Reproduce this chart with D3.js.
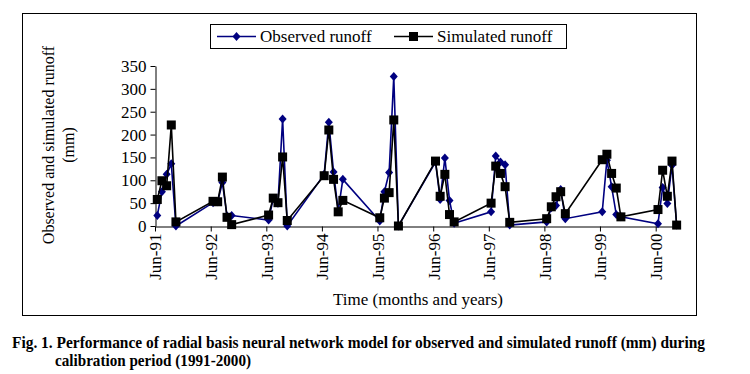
<!DOCTYPE html>
<html>
<head>
<meta charset="utf-8">
<script src="https://cdn.jsdelivr.net/npm/d3@7"></script>
<style>
  body { margin: 0; background: #fff; }
  svg { display: block; font-family: "Liberation Serif", "Times New Roman", serif; }
</style>
</head>
<body>
<div id="chart"></div>
<script>
// monsoon months recorded each year (Jun..Oct)
const years = [1991, 1992, 1993, 1994, 1995, 1996, 1997, 1998, 1999, 2000];
const months = [5, 6, 7, 8, 9]; // Jun, Jul, Aug, Sep, Oct (0-based)

// runoff (mm), 5 values per year
const observed = [
  23, 75, 113, 136, 0,
  51, 53, 95, 22, 23,
  13, 60, 50, 234, 0,
  113, 227, 118, 33, 102,
  11, 75, 117, 327, 0,
  140, 58, 149, 56, 6,
  31, 153, 140, 134, 2,
  9, 40, 45, 80, 16,
  31, 144, 86, 25, 20,
  5, 84, 49, 133, 2
];
const simulated = [
  58, 99, 88, 221, 9,
  54, 53, 107, 19, 3,
  24, 61, 51, 151, 12,
  110, 210, 102, 31, 56,
  18, 61, 73, 232, 0,
  142, 65, 113, 25, 9,
  50, 131, 115, 86, 8,
  16, 42, 64, 75, 27,
  145, 157, 115, 83, 20,
  36, 122, 65, 142, 2
];
const yTicks = [0, 50, 100, 150, 200, 250, 300, 350];

const W = 750, H = 374;
const dates = [];
years.forEach(y => months.forEach(m => dates.push(new Date(y, m, 1))));

const svg = d3.select('#chart').append('svg')
  .attr('width', W).attr('height', H);

// outer chart border
svg.append('rect')
  .attr('x', 22.5).attr('y', 13.5)
  .attr('width', 674).attr('height', 302)
  .attr('fill', 'none').attr('stroke', '#000').attr('stroke-width', 1);

const x = d3.scaleTime()
  .domain([new Date(1991, 5, 1), new Date(2000, 10, 1)])
  .range([155, 679]);
const y = d3.scaleLinear().domain([0, 350]).range([226, 66]);

// point sits in the middle of its month
const xm = d => (x(d) + x(d3.timeMonth.offset(d, 1))) / 2;

// axes
const gy = svg.append('g')
  .attr('transform', 'translate(155.5,0)')
  .call(d3.axisLeft(y).tickValues(yTicks).tickSize(5).tickPadding(4).tickSizeOuter(0));
gy.select('.domain').attr('stroke', '#000');
gy.selectAll('text').attr('font-family', 'Liberation Serif').attr('font-size', 17).attr('fill', '#000');

const gx = svg.append('g')
  .attr('transform', 'translate(0,226.5)')
  .call(d3.axisBottom(x)
    .tickValues(years.map(yy => new Date(yy, 5, 1)))
    .tickFormat(d3.timeFormat('%b-%y'))
    .tickSize(5).tickSizeOuter(0));
gx.select('.domain').attr('stroke', '#000');
gx.selectAll('text')
  .attr('font-family', 'Liberation Serif').attr('font-size', 17).attr('fill', '#000')
  .attr('text-anchor', 'end')
  .attr('transform', 'rotate(-90)')
  .attr('x', -7).attr('y', 0).attr('dy', '0.35em');

// series
const line = d3.line().x((v, i) => xm(dates[i])).y(v => y(v));

svg.append('path').datum(observed)
  .attr('d', line).attr('fill', 'none')
  .attr('stroke', '#000080').attr('stroke-width', 1.6);
svg.append('g').selectAll('path').data(observed).join('path')
  .attr('transform', (v, i) => `translate(${xm(dates[i])},${y(v)})`)
  .attr('d', 'M0,-4.5L4,0L0,4.5L-4,0Z')
  .attr('fill', '#000080');

svg.append('path').datum(simulated)
  .attr('d', line).attr('fill', 'none')
  .attr('stroke', '#000').attr('stroke-width', 1.6);
svg.append('g').selectAll('rect').data(simulated).join('rect')
  .attr('x', (v, i) => xm(dates[i]) - 4.5)
  .attr('y', v => y(v) - 4.5)
  .attr('width', 9).attr('height', 9)
  .attr('fill', '#000');

// axis titles
svg.append('text')
  .attr('transform', 'translate(54,145) rotate(-90)')
  .attr('text-anchor', 'middle').attr('font-size', 16)
  .text('Observed and simulated runoff');
svg.append('text')
  .attr('transform', 'translate(74,145) rotate(-90)')
  .attr('text-anchor', 'middle').attr('font-size', 16)
  .text('(mm)');
svg.append('text')
  .attr('x', 418).attr('y', 305)
  .attr('text-anchor', 'middle').attr('font-size', 17)
  .text('Time (months and years)');

// legend
const lg = svg.append('g');
lg.append('rect').attr('x', 210.5).attr('y', 24.5).attr('width', 356).attr('height', 24)
  .attr('fill', '#fff').attr('stroke', '#000');
lg.append('line').attr('x1', 217).attr('x2', 256).attr('y1', 36.5).attr('y2', 36.5)
  .attr('stroke', '#000080').attr('stroke-width', 1.6);
lg.append('path').attr('transform', 'translate(236.5,36.5)')
  .attr('d', 'M0,-4.5L4,0L0,4.5L-4,0Z').attr('fill', '#000080');
lg.append('text').attr('x', 260).attr('y', 42).attr('font-size', 17).text('Observed runoff');
lg.append('line').attr('x1', 394).attr('x2', 433).attr('y1', 36.5).attr('y2', 36.5)
  .attr('stroke', '#000').attr('stroke-width', 1.6);
lg.append('rect').attr('x', 409).attr('y', 32).attr('width', 9).attr('height', 9).attr('fill', '#000');
lg.append('text').attr('x', 437).attr('y', 42).attr('font-size', 17).text('Simulated runoff');

// figure caption
svg.append('text')
  .attr('x', 12).attr('y', 348).attr('font-size', 16).attr('font-weight', 'bold')
  .attr('textLength', 693).attr('lengthAdjust', 'spacingAndGlyphs')
  .text('Fig. 1. Performance of radial basis neural network model for observed and simulated runoff (mm) during');
svg.append('text')
  .attr('x', 55).attr('y', 366).attr('font-size', 16).attr('font-weight', 'bold')
  .attr('textLength', 196).attr('lengthAdjust', 'spacingAndGlyphs')
  .text('calibration period (1991-2000)');
</script>
</body>
</html>
